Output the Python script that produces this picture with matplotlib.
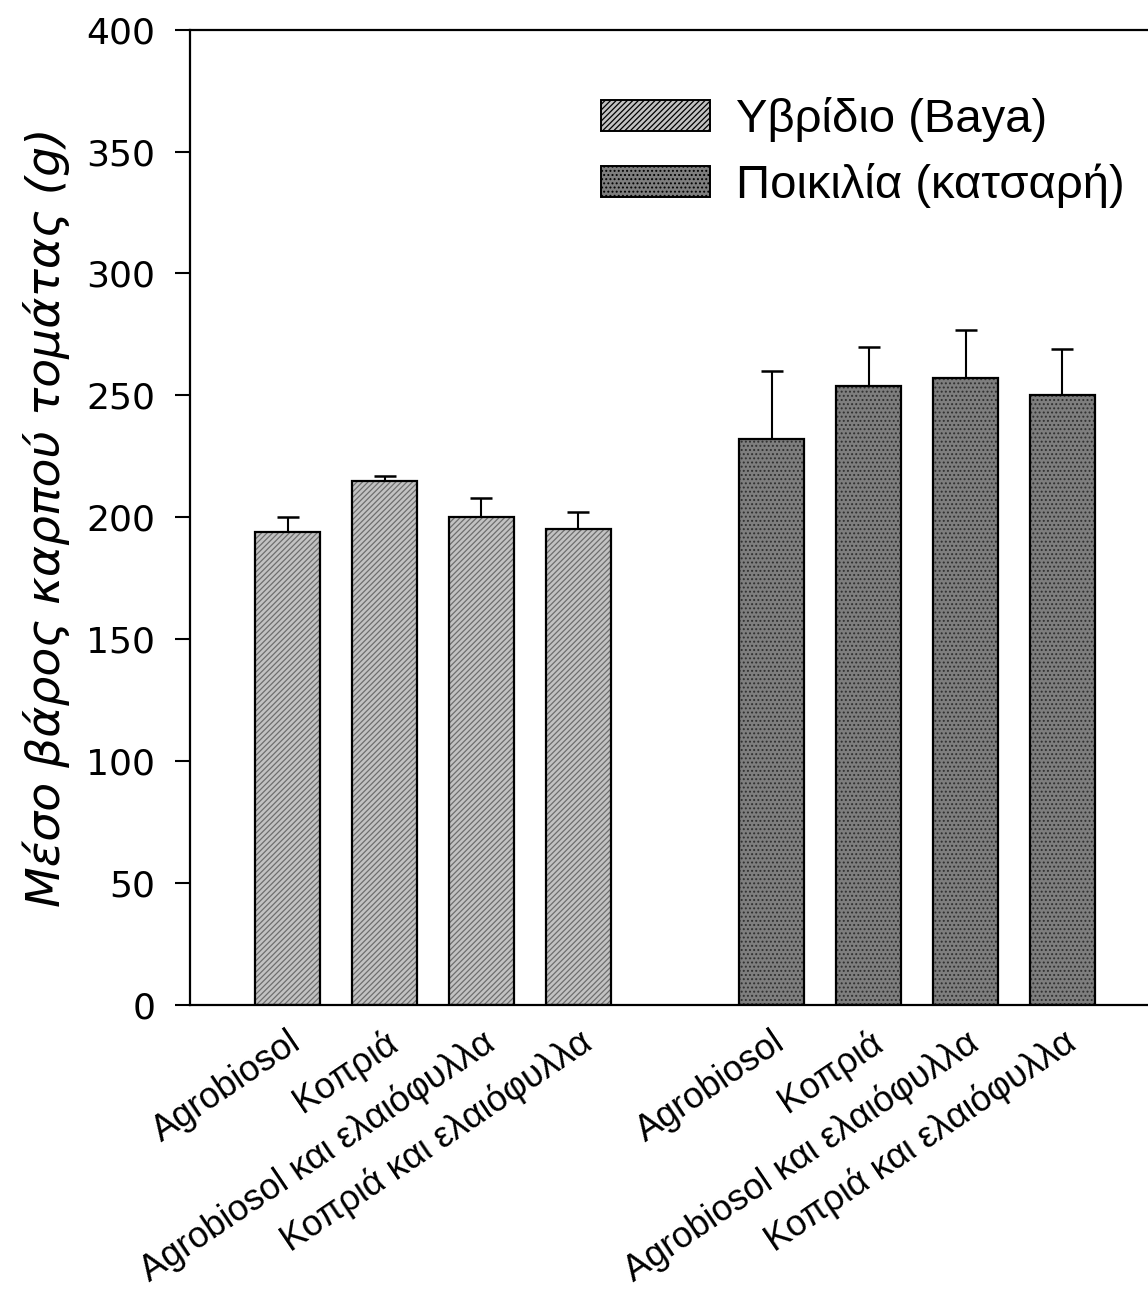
import numpy as np
import matplotlib
matplotlib.use("Agg")
from matplotlib import pyplot as plt
from matplotlib.patches import Patch

# data
treatments = ["Agrobiosol", "Κοπριά", "Agrobiosol και ελαιόφυλλα", "Κοπριά και ελαιόφυλλα"]
hybrid_mean = [194, 215, 200, 195]
hybrid_err = [6, 2, 8, 7]
variety_mean = [232, 254, 257, 250]
variety_err = [28, 16, 20, 19]
series_names = ["Υβρίδιο (Baya)", "Ποικιλία (κατσαρή)"]
y_ticks = [0, 50, 100, 150, 200, 250, 300, 350, 400]

plt.rcParams["font.family"] = ["DejaVu Sans"]
plt.rcParams["hatch.linewidth"] = 0.9

fig = plt.figure(figsize=(11.48, 12.9), dpi=100)
ax = fig.add_axes([0.1655, 0.221, 0.84, 0.756])

x1 = np.arange(len(treatments))
x2 = x1 + len(treatments) + 1
w = 0.67

light_face, light_hatch = "#c2c2c2", "#6e6e6e"
dark_face, dark_hatch = "#7e7e7e", "#303030"

# filled + hatched layer, then black outline on top
ax.bar(x1, hybrid_mean, w, color=light_face, edgecolor=light_hatch, hatch="//////", linewidth=0, zorder=2)
ax.bar(x2, variety_mean, w, color=dark_face, edgecolor=dark_hatch, hatch="....", linewidth=0, zorder=2)
ax.bar(np.concatenate([x1, x2]), hybrid_mean + variety_mean, w, fill=False, edgecolor="black", linewidth=1.6, zorder=3)

zeros = np.zeros(len(treatments))
ax.errorbar(x1, hybrid_mean, yerr=[zeros, hybrid_err], fmt="none", ecolor="black", elinewidth=1.5, capsize=8, capthick=1.8, zorder=1)
ax.errorbar(x2, variety_mean, yerr=[zeros, variety_err], fmt="none", ecolor="black", elinewidth=1.5, capsize=8, capthick=1.8, zorder=1)

ax.set_xlim(-1.01, 8.95)
ax.set_ylim(0, 400)
ax.set_yticks(y_ticks)
ax.tick_params(axis="y", direction="out", length=11, width=1.5, labelsize=26, pad=14)
ax.tick_params(axis="x", length=0, pad=14)
ax.set_xticks(np.concatenate([x1, x2]))
ax.set_xticklabels(treatments + treatments, rotation=34, ha="right", rotation_mode="anchor",
                   fontsize=26, family=["Liberation Sans", "DejaVu Sans"])

ax.spines["right"].set_visible(False)
for s in ["left", "bottom", "top"]:
    ax.spines[s].set_linewidth(1.6)

ax.set_ylabel("Μέσο βάρος καρπού τομάτας (g)", fontsize=34, style="italic", labelpad=12)

handles = [Patch(facecolor=light_face, edgecolor="black", hatch="//////", linewidth=1.4),
           Patch(facecolor=dark_face, edgecolor="black", hatch="....", linewidth=1.4)]
leg = ax.legend(handles, series_names, loc="upper left", bbox_to_anchor=(0.503, 0.943),
                bbox_transform=fig.transFigure, frameon=False,
                handlelength=2.3, handleheight=0.62, handletextpad=0.55, labelspacing=0.45,
                borderpad=0, prop={"family": ["Liberation Sans", "DejaVu Sans"], "size": 34})

fig.savefig("out.png", dpi=100, facecolor="white")
